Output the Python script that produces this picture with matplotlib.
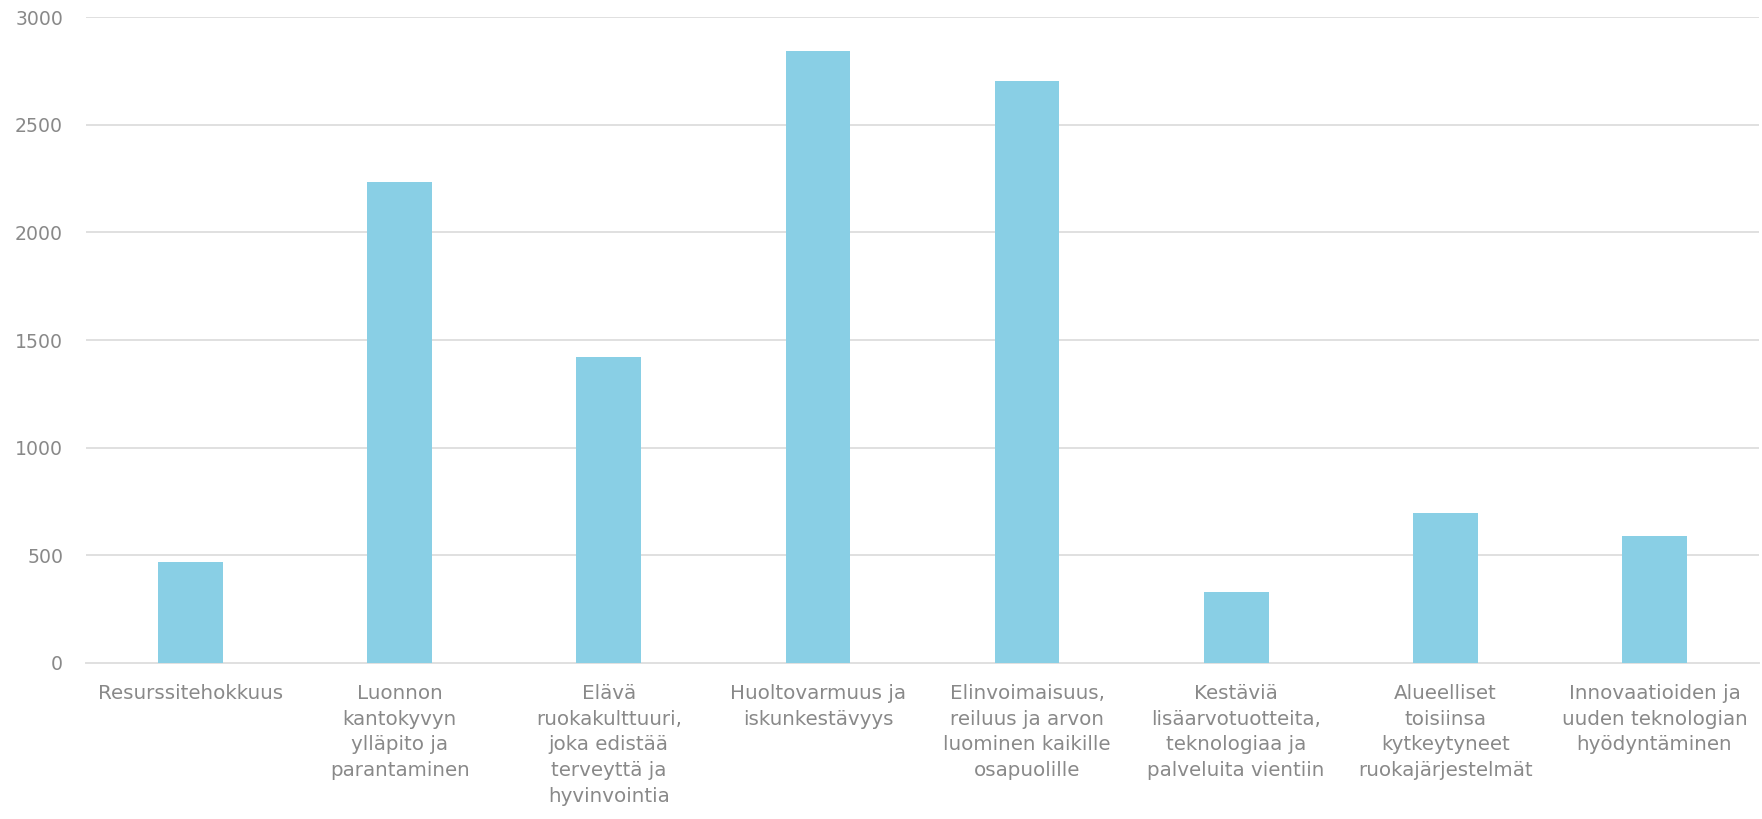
import numpy as np
import matplotlib
matplotlib.use("Agg")
import matplotlib.pyplot as plt

categories = [
    "Resurssitehokkuus",
    "Luonnon\nkantokyvyn\nylläpito ja\nparantaminen",
    "Elävä\nruokakulttuuri,\njoka edistää\nterveyttä ja\nhyvinvointia",
    "Huoltovarmuus ja\niskunkestävyys",
    "Elinvoimaisuus,\nreiluus ja arvon\nluominen kaikille\nosapuolille",
    "Kestäviä\nlisäarvotuotteita,\nteknologiaa ja\npalveluita vientiin",
    "Alueelliset\ntoisiinsa\nkytkeytyneet\nruokajärjestelmät",
    "Innovaatioiden ja\nuuden teknologian\nhyödyntäminen",
]
values = [470, 2235, 1420, 2840, 2703, 330, 697, 590]
y_ticks = [0, 500, 1000, 1500, 2000, 2500, 3000]

text_color = "#898989"
grid_color = "#e0e0e0"
bar_color = "#89cfe5"

plt.rcParams["font.family"] = ["DejaVu Sans"]

fig = plt.figure(figsize=(17.62, 8.19), dpi=100)
ax = fig.add_axes([0.0488, 0.1905, 0.9495, 0.7887])

x = np.arange(len(categories))
ax.bar(x, values, width=0.31, color=bar_color, zorder=3)

ax.set_xlim(-0.5, len(categories) - 0.5)
ax.set_ylim(0, 3000)
ax.set_yticks(y_ticks)
ax.set_yticklabels([str(v) for v in y_ticks])
ax.set_xticks(x)
ax.set_xticklabels(categories, linespacing=1.45)

ax.grid(axis="y", color=grid_color, linewidth=1.4, zorder=0)
for side in ["top", "right", "left"]:
    ax.spines[side].set_visible(False)
ax.spines["bottom"].set_color(grid_color)
ax.spines["bottom"].set_linewidth(1.4)

ax.tick_params(axis="both", length=0, colors=text_color)
ax.tick_params(axis="x", labelsize=14.3, pad=15)
ax.tick_params(axis="y", labelsize=13.6, pad=16.5)

fig.savefig("out.png", dpi=100)
